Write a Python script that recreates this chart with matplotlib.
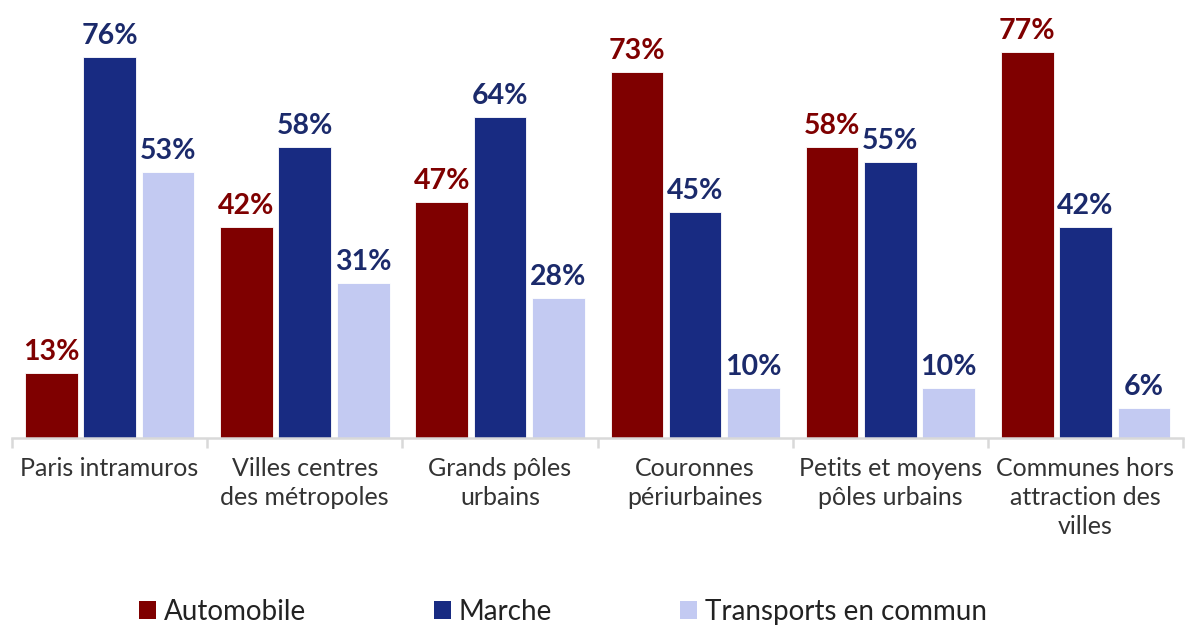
import numpy as np
import matplotlib.pyplot as plt
from matplotlib.patches import Patch

plt.rcParams['font.family'] = ['Lato', 'DejaVu Sans']

categories = ["Paris intramuros", "Villes centres\ndes métropoles", "Grands pôles\nurbains",
              "Couronnes\npériurbaines", "Petits et moyens\npôles urbains",
              "Communes hors\nattraction des\nvilles"]
series = ["Automobile", "Marche", "Transports en commun"]
automobile = [13, 42, 47, 73, 58, 77]
marche = [76, 58, 64, 45, 55, 42]
transports = [53, 31, 28, 10, 10, 6]

colors = ['#7f0000', '#182b82', '#c3caf2']
label_colors = ['#7f0000', '#1b2a6b', '#1b2a6b']

fig = plt.figure(figsize=(11.85, 6.27), dpi=100)
ax = fig.add_axes([12 / 1185, 189 / 627, 1171 / 1185, 401 / 627])

x = np.arange(len(categories))
width = 0.27
offsets = [-0.298, 0.0, 0.30]
for vals, off, c, lc, name in zip([automobile, marche, transports], offsets, colors, label_colors, series):
    bars = ax.bar(x + off, vals, width, color=c, edgecolor='white', linewidth=0.6, label=name)
    for b, v in zip(bars, vals):
        ax.text(b.get_x() + b.get_width() / 2, v + 1.6, f"{v}%", ha='center', va='bottom',
                color=lc, fontsize=20.5, fontweight='bold', clip_on=False)

ax.set_xlim(-0.5, len(categories) - 0.5)
ax.set_ylim(0, 80)
ax.set_yticks([])
for s in ['top', 'right', 'left']:
    ax.spines[s].set_visible(False)
ax.spines['bottom'].set_color('#d9d9d9')
ax.spines['bottom'].set_linewidth(1.8)

ax.set_xticks(np.arange(len(categories) + 1) - 0.5)
ax.set_xticklabels([])
ax.tick_params(axis='x', length=7, width=1.8, color='#d9d9d9')
for i, cat in enumerate(categories):
    ax.text(i, -3.8, cat, ha='center', va='top', fontsize=18, color='#333333',
            linespacing=1.32)

handles = [Patch(facecolor=c, edgecolor='none') for c in colors]
fig.legend(handles, series, loc='center', bbox_to_anchor=(563 / 1185, 1 - 612 / 627), ncol=3,
           frameon=False, fontsize=20, handlelength=0.6, handleheight=0.6,
           handletextpad=0.3, columnspacing=4.6, labelcolor='#222222')

fig.savefig('out.png', dpi=100)
